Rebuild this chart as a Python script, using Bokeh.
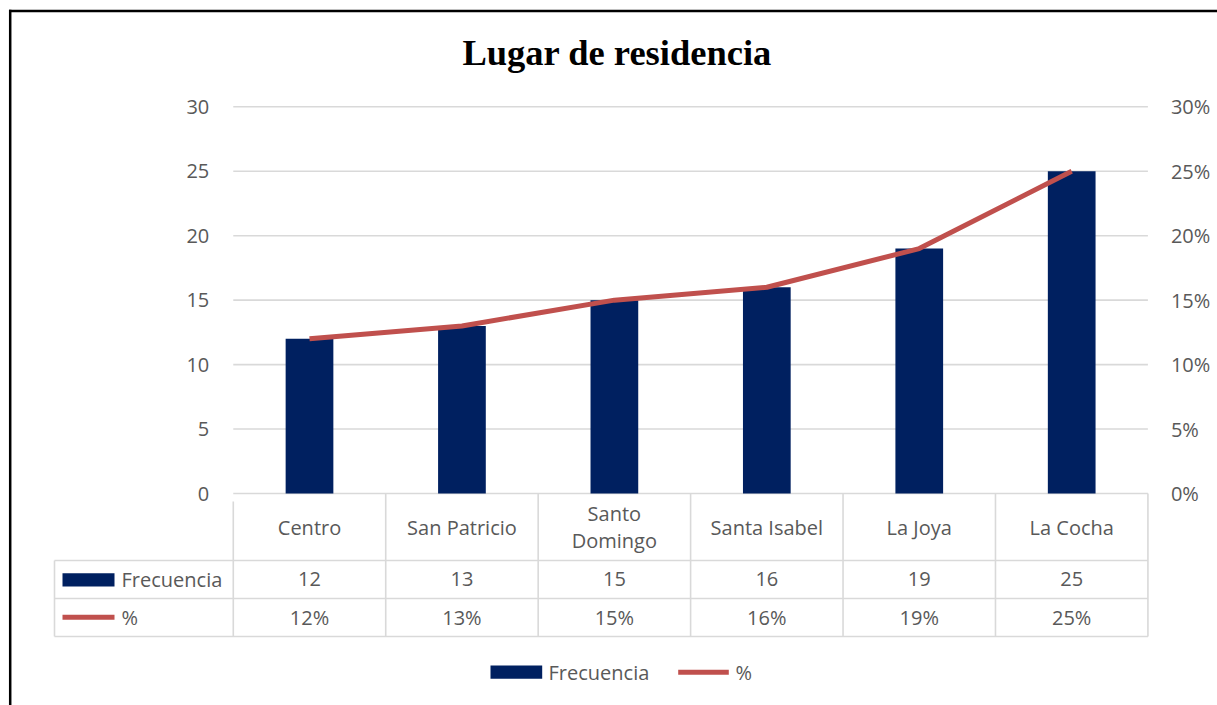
from bokeh.plotting import figure
from bokeh.models import Range1d, LinearAxis, FixedTicker, Label, NumeralTickFormatter, BasicTickFormatter
from bokeh.embed import file_html
from bokeh.resources import INLINE
from bokeh.core.properties import value

# ---------------- data ----------------
title = "Lugar de residencia"
categories = ["Centro", "San Patricio", "Santo\nDomingo", "Santa Isabel", "La Joya", "La Cocha"]
frecuencia = [12, 13, 15, 16, 19, 25]
porcentaje = [0.12, 0.13, 0.15, 0.16, 0.19, 0.25]
series_names = ["Frecuencia", "%"]
y_ticks = [0, 5, 10, 15, 20, 25, 30]
y2_ticks = [0, 0.05, 0.10, 0.15, 0.20, 0.25, 0.30]

# ---------------- styling / layout calibration (page pixels) ----------------
FONT = "Open Sans"
FS = "20px"
TXT = "#595959"
GRID = "#d9d9d9"
NAVY = "#002060"
RED = "#C0504D"

W, H = 1217, 705
OFF = 0                    # page offset of the canvas
X0, DX = 309.0, 152.44     # page px of category 0, px per category
Y0, DY = 493.0, 12.89      # page px of value 0, px per unit


def px2x(px):
    return (px - X0) / DX


def px2y(py):
    return (Y0 - py) / DY


x_start, x_end = px2x(OFF), px2x(OFF + W)
y_start, y_end = px2y(OFF + H), px2y(OFF)

p = figure(width=W, height=H, output_backend="svg", toolbar_location=None,
           x_axis_location=None, y_axis_location=None,
           x_range=Range1d(x_start, x_end), y_range=Range1d(y_start, y_end),
           min_border=0, outline_line_color=None)
p.extra_y_ranges = {"pct": Range1d(y_start / 100.0, y_end / 100.0)}
p.xgrid.visible = False
p.ygrid.visible = False

n = len(categories)
idx = list(range(n))
left_edge, right_edge = -0.5, n - 0.5

# horizontal gridlines
p.segment(x0=[left_edge] * len(y_ticks), x1=[right_edge] * len(y_ticks),
          y0=y_ticks, y1=y_ticks, line_color=GRID, line_width=1.6)

# bars and line
p.vbar(x=idx, top=frecuencia, width=0.313, fill_color=NAVY, line_color=None)
p.line(x=idx, y=porcentaje, y_range_name="pct", line_color=RED, line_width=5)

# axes (fixed inside the frame, at the plot-area edges)
yax = LinearAxis(fixed_location=left_edge, ticker=FixedTicker(ticks=y_ticks),
                 formatter=BasicTickFormatter(),
                 axis_line_color=None, major_tick_line_color=None, minor_tick_line_color=None,
                 major_tick_in=0, major_tick_out=0, major_label_standoff=24,
                 major_label_text_font=FONT, major_label_text_font_size=FS,
                 major_label_text_color=TXT)
p.add_layout(yax, "left")
y2ax = LinearAxis(y_range_name="pct", fixed_location=right_edge, ticker=FixedTicker(ticks=y2_ticks),
                  formatter=NumeralTickFormatter(format="0%"),
                  axis_line_color=None, major_tick_line_color=None, minor_tick_line_color=None,
                  major_tick_in=0, major_tick_out=0, major_label_standoff=23,
                  major_label_text_font=FONT, major_label_text_font_size=FS,
                  major_label_text_color=TXT)
p.add_layout(y2ax, "right")

# ---------------- data table ----------------
row_lines = [px2y(560), px2y(598), px2y(636)]
hx0 = px2x(54)
p.segment(x0=[hx0] * 3, x1=[right_edge] * 3, y0=row_lines, y1=row_lines,
          line_color=GRID, line_width=1.6)
vx = [hx0, left_edge] + [i + 0.5 for i in range(n)]
vy0 = [px2y(560), px2y(501)] + [0.0] * n
vy1 = [px2y(636)] * len(vx)
p.segment(x0=vx, x1=vx, y0=vy0, y1=vy1, line_color=GRID, line_width=1.6)

text_kw = dict(text_font=value(FONT), text_font_size=FS, text_color=TXT)
p.text(x=idx, y=[px2y(526.5)] * n, text=categories, text_align="center",
       text_baseline="middle", text_line_height=1.0, **text_kw)
p.text(x=idx, y=[px2y(578.5)] * n, text=[str(v) for v in frecuencia],
       text_align="center", text_baseline="middle", **text_kw)
p.text(x=idx, y=[px2y(616.5)] * n, text=["%d%%" % round(v * 100) for v in porcentaje],
       text_align="center", text_baseline="middle", **text_kw)

# row headers with legend keys
p.quad(left=[px2x(62)], right=[px2x(114)], top=[px2y(572.7)], bottom=[px2y(586)],
       fill_color=NAVY, line_color=None)
p.segment(x0=[px2x(62)], x1=[px2x(114)], y0=[px2y(616.7)], y1=[px2y(616.7)],
          line_color=RED, line_width=5)
p.text(x=[px2x(121)] * 2, y=[px2y(578.5), px2y(616.5)], text=series_names,
       text_align="left", text_baseline="middle", **text_kw)

# ---------------- bottom legend ----------------
p.quad(left=[px2x(490)], right=[px2x(541.7)], top=[px2y(665)], bottom=[px2y(678.3)],
       fill_color=NAVY, line_color=None)
p.segment(x0=[px2x(677.7)], x1=[px2x(728.3)], y0=[px2y(671.7)], y1=[px2y(671.7)],
          line_color=RED, line_width=5)
p.text(x=[px2x(548), px2x(735)], y=[px2y(671.5)] * 2, text=series_names,
       text_align="left", text_baseline="middle", **text_kw)

# ---------------- title ----------------
p.add_layout(Label(x=px2x(616.7), y=px2y(52), text=title, text_align="center",
                   text_baseline="alphabetic", text_font="Liberation Serif",
                   text_font_style="bold", text_font_size="36.5px", text_color="black"))

# ---------------- chart border (left and top) ----------------
p.segment(x0=[px2x(9.7), px2x(8.5)], x1=[px2x(9.7), x_end + 1],
          y0=[px2y(9.3), px2y(10.5)], y1=[y_start - 1, px2y(10.5)],
          line_color="black", line_width=2.5)

open("out.html", "w").write(file_html(p, INLINE))
